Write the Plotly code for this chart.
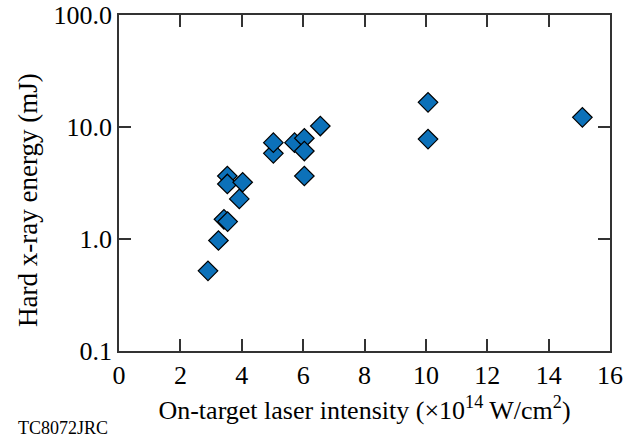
import plotly.graph_objects as go

intensity = [2.9, 3.24, 3.42, 3.54, 3.92, 3.53, 3.53, 4.03, 5.03, 5.03, 5.72, 6.04, 6.04, 6.04, 6.56, 10.07, 10.07, 15.1]
energy = [0.52, 0.97, 1.50, 1.43, 2.28, 3.65, 3.10, 3.21, 5.82, 7.25, 7.25, 7.93, 6.1, 3.65, 10.2, 16.6, 7.8, 12.2]

x_ticks = [0, 2, 4, 6, 8, 10, 12, 14, 16]
y_tickvals = [0.1, 1, 10, 100]
y_ticktext = ["0.1", "1.0", "10.0", "100.0"]

font_family = "Liberation Serif"
axis_color = "#333333"
fs = 26

# plot area in pixels
L, R, T, B = 119, 610, 15, 351
W, H = R - L, B - T

fig = go.Figure()
fig.add_trace(go.Scatter(
    x=intensity, y=energy, mode="markers",
    marker=dict(symbol="diamond", size=15, color="#0c71b9",
                line=dict(color="black", width=1.2)),
    showlegend=False,
))

fig.update_layout(
    width=626, height=440,
    margin=dict(l=L, r=626 - R, t=T, b=440 - B),
    plot_bgcolor="white", paper_bgcolor="white",
    font=dict(family=font_family, size=fs, color="black"),
)
fig.update_xaxes(
    range=[0, 16], tickvals=x_ticks, ticks="inside", ticklen=12, tickwidth=1.5,
    tickcolor=axis_color, showline=True, linecolor=axis_color, linewidth=1.5,
    mirror="ticks", showgrid=False, zeroline=False, automargin=False,
    title=dict(text="On-target laser intensity (×10<sup>14</sup> W/cm<sup>2</sup>)",
               standoff=12, font=dict(family=font_family, size=fs, color="black")),
    tickfont=dict(family=font_family, size=fs, color="black"),
)
fig.update_yaxes(
    type="log", range=[-1, 2], tickvals=y_tickvals, ticktext=y_ticktext,
    ticks="inside", ticklen=12, tickwidth=1.5, tickcolor=axis_color,
    showline=True, linecolor=axis_color, linewidth=1.5, mirror="ticks",
    showgrid=False, zeroline=False, automargin=False,
    tickfont=dict(family=font_family, size=fs, color="black"),
)
fig.add_annotation(
    text="Hard x-ray energy (mJ)", textangle=-90, xref="paper", yref="paper",
    x=(28 - L) / W, y=(B - 200) / H, xanchor="center", yanchor="middle",
    showarrow=False, font=dict(family=font_family, size=27, color="black"),
)
fig.add_annotation(
    text="TC8072JRC", xref="paper", yref="paper",
    x=(63 - L) / W, y=(B - 439) / H,
    xanchor="center", yanchor="bottom", showarrow=False, borderpad=0,
    font=dict(family=font_family, size=18, color="black"),
)

fig.write_html("out.html")
